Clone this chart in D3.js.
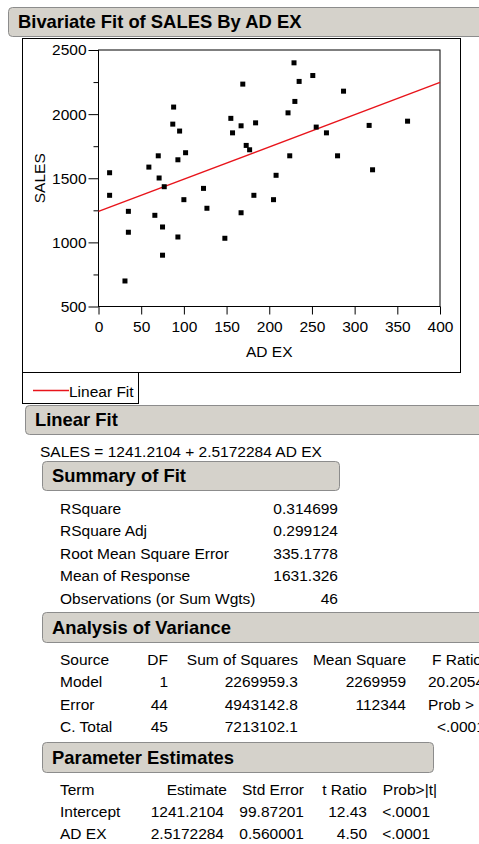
<!DOCTYPE html>
<html>
<head>
<meta charset="utf-8">
<script src="https://cdn.jsdelivr.net/npm/d3@7"></script>
<style>
  html, body { margin: 0; padding: 0; background: #fff; }
  svg { display: block; font-family: "Liberation Sans", Arial, sans-serif; }
</style>
</head>
<body>
<svg id="chart" width="479" height="844"></svg>
<script>
// Advertising expense (AD EX) vs SALES, 46 observations
const adEx = [169, 88, 87, 95, 155, 167, 184, 157, 173, 177,
              70, 102, 93, 59, 13, 71, 229, 251, 235, 287,
              230, 222, 255, 267, 317, 362, 224, 280, 321, 208,
              77, 13, 123, 100, 127, 182, 167, 35, 66, 75,
              35, 93, 148, 75, 31, 205];
const sales = [2234, 2055, 1922, 1868, 1967, 1909, 1932, 1854, 1756, 1722,
               1675, 1699, 1644, 1587, 1543, 1502, 2400, 2301, 2255, 2179,
               2099, 2010, 1899, 1854, 1912, 1945, 1675, 1675, 1566, 1523,
               1434, 1367, 1421, 1333, 1266, 1367, 1231, 1242, 1211, 1120,
               1079, 1042, 1032, 900, 699, 1333];

// Fitted line: SALES = intercept + slope * AD EX
const intercept = 1241.2104;
const slope = 2.5172284;

const xTicks = [0, 50, 100, 150, 200, 250, 300, 350, 400];
const yTicks = [500, 750, 1000, 1250, 1500, 1750, 2000, 2250, 2500];
const yLabelTicks = [500, 1000, 1500, 2000, 2500];

// Summary of Fit
const summaryLabels = ["RSquare", "RSquare Adj", "Root Mean Square Error", "Mean of Response", "Observations (or Sum Wgts)"];
const summaryValues = ["0.314699", "0.299124", "335.1778", "1631.326", "46"];

// Analysis of Variance
const anovaHeader = ["Source", "DF", "Sum of Squares", "Mean Square", "F Ratio"];
const anovaSource = ["Model", "Error", "C. Total"];
const anovaDF = ["1", "44", "45"];
const anovaSS = ["2269959.3", "4943142.8", "7213102.1"];
const anovaMS = ["2269959", "112344", ""];
const anovaF = ["20.2054", "Prob > F", "<.0001"];

// Parameter Estimates
const paramHeader = ["Term", "Estimate", "Std Error", "t Ratio", "Prob>|t|"];
const paramTerm = ["Intercept", "AD EX"];
const paramEstimate = ["1241.2104", "2.5172284"];
const paramStdErr = ["99.87201", "0.560001"];
const paramT = ["12.43", "4.50"];
const paramP = ["<.0001", "<.0001"];

const svg = d3.select("#chart");
const FONT = 15.5;
const BAR_FILL = "#d5d2cb";
const BAR_STROKE = "#8c8c8c";

function headerBar(x, y, w, h, label) {
  svg.append("rect")
    .attr("x", x + 0.5).attr("y", y + 0.5)
    .attr("width", w).attr("height", h)
    .attr("rx", 4).attr("ry", 4)
    .attr("fill", BAR_FILL).attr("stroke", BAR_STROKE).attr("stroke-width", 1);
  svg.append("text")
    .attr("x", x + 10).attr("y", y + h - 8)
    .attr("font-size", 18.4).attr("font-weight", "bold").attr("fill", "#000")
    .text(label);
}

// ---- Title bar
headerBar(8, 7, 490, 29, "Bivariate Fit of SALES By AD EX");

// ---- Outer frame around the plot
svg.append("rect")
  .attr("x", 22.5).attr("y", 38.5).attr("width", 438).attr("height", 334)
  .attr("fill", "none").attr("stroke", "#000");

// ---- Scales
const x = d3.scaleLinear().domain([0, 400]).range([98.5, 440]);
const y = d3.scaleLinear().domain([500, 2500]).range([306.5, 50]);

// Plot box
svg.append("rect")
  .attr("x", x(0)).attr("y", y(2500))
  .attr("width", x(400) - x(0)).attr("height", y(500) - y(2500))
  .attr("fill", "none").attr("stroke", "#000");

// Y axis: ticks every 250, labels every 500
const yAxis = d3.axisLeft(y)
  .tickValues(yTicks)
  .tickSizeOuter(0)
  .tickFormat(d => yLabelTicks.includes(d) ? d : "");
const gy = svg.append("g").attr("transform", `translate(${x(0)},0)`).call(yAxis);
gy.select(".domain").remove();
gy.selectAll(".tick line")
  .attr("x2", d => yLabelTicks.includes(d) ? -10 : -5)
  .attr("stroke", "#000");
gy.selectAll(".tick text")
  .attr("x", -12)
  .attr("font-size", FONT).attr("font-family", "Liberation Sans, Arial, sans-serif")
  .attr("fill", "#000");

// X axis
const xAxis = d3.axisBottom(x).tickValues(xTicks).tickSize(8).tickSizeOuter(0);
const gx = svg.append("g").attr("transform", `translate(0,${y(500)})`).call(xAxis);
gx.select(".domain").remove();
gx.selectAll(".tick line").attr("stroke", "#000");
gx.selectAll(".tick text")
  .attr("y", 14)
  .attr("font-size", FONT).attr("font-family", "Liberation Sans, Arial, sans-serif")
  .attr("fill", "#000");

// Axis titles
svg.append("text")
  .attr("x", (x(0) + x(400)) / 2).attr("y", 357)
  .attr("text-anchor", "middle").attr("font-size", FONT)
  .text("AD EX");
svg.append("text")
  .attr("transform", `translate(45,${(y(500) + y(2500)) / 2}) rotate(-90)`)
  .attr("text-anchor", "middle").attr("font-size", FONT)
  .text("SALES");

// Fitted line
const fitX = [0, 400];
svg.append("path")
  .datum(fitX)
  .attr("d", d3.line().x(d => x(d)).y(d => y(intercept + slope * d)))
  .attr("fill", "none").attr("stroke", "#e8141b").attr("stroke-width", 1.4);

// Observations
const pts = adEx.map((v, i) => ({ ax: v, s: sales[i] }));
svg.append("g").selectAll("rect")
  .data(pts)
  .join("rect")
  .attr("x", d => x(d.ax) - 2.5)
  .attr("y", d => y(d.s) - 2.5)
  .attr("width", 5).attr("height", 5)
  .attr("fill", "#000");

// ---- Legend
svg.append("rect")
  .attr("x", 22.5).attr("y", 372.5).attr("width", 116).attr("height", 31)
  .attr("fill", "none").attr("stroke", "#000");
svg.append("line")
  .attr("x1", 33).attr("x2", 69).attr("y1", 390.5).attr("y2", 390.5)
  .attr("stroke", "#e8141b").attr("stroke-width", 1.4);
svg.append("text")
  .attr("x", 69).attr("y", 397).attr("font-size", FONT)
  .text("Linear Fit");

// ---- Linear Fit report
headerBar(25, 405, 470, 29, "Linear Fit");
svg.append("text")
  .attr("x", 40).attr("y", 456.5).attr("font-size", FONT)
  .text(`SALES = ${intercept.toFixed(4)} + ${slope.toFixed(7)} AD EX`);

// Summary of Fit
headerBar(42, 461, 297, 29, "Summary of Fit");
const sumRowY = i => 513.5 + i * 22.5;
svg.append("g").selectAll("text").data(summaryLabels).join("text")
  .attr("x", 60).attr("y", (d, i) => sumRowY(i)).attr("font-size", FONT).text(d => d);
svg.append("g").selectAll("text").data(summaryValues).join("text")
  .attr("x", 338).attr("y", (d, i) => sumRowY(i)).attr("text-anchor", "end")
  .attr("font-size", FONT).text(d => d);

// Analysis of Variance
headerBar(42, 612, 470, 30, "Analysis of Variance");
const anovaRowY = i => 665 + i * 22.3;
function column(values, xPos, anchor, rowY, offset) {
  svg.append("g").selectAll("text").data(values).join("text")
    .attr("x", typeof xPos === "function" ? xPos : () => xPos)
    .attr("y", (d, i) => rowY(i + offset))
    .attr("text-anchor", anchor)
    .attr("font-size", FONT)
    .text(d => d);
}
svg.append("text").attr("x", 60).attr("y", anovaRowY(0)).attr("font-size", FONT).text(anovaHeader[0]);
svg.append("text").attr("x", 168).attr("y", anovaRowY(0)).attr("text-anchor", "end").attr("font-size", FONT).text(anovaHeader[1]);
svg.append("text").attr("x", 298).attr("y", anovaRowY(0)).attr("text-anchor", "end").attr("font-size", FONT).text(anovaHeader[2]);
svg.append("text").attr("x", 406).attr("y", anovaRowY(0)).attr("text-anchor", "end").attr("font-size", FONT).text(anovaHeader[3]);
svg.append("text").attr("x", 432).attr("y", anovaRowY(0)).attr("font-size", FONT).text(anovaHeader[4]);
column(anovaSource, 60, "start", anovaRowY, 1);
column(anovaDF, 168, "end", anovaRowY, 1);
column(anovaSS, 298, "end", anovaRowY, 1);
column(anovaMS, 406, "end", anovaRowY, 1);
column(anovaF, (d, i) => i === 2 ? 437 : 428, "start", anovaRowY, 1);

// Parameter Estimates
headerBar(42, 742, 391, 30, "Parameter Estimates");
const paramRowY = i => 795 + i * 22.2;
svg.append("text").attr("x", 60).attr("y", paramRowY(0)).attr("font-size", FONT).text(paramHeader[0]);
svg.append("text").attr("x", 227).attr("y", paramRowY(0)).attr("text-anchor", "end").attr("font-size", FONT).text(paramHeader[1]);
svg.append("text").attr("x", 304).attr("y", paramRowY(0)).attr("text-anchor", "end").attr("font-size", FONT).text(paramHeader[2]);
svg.append("text").attr("x", 367).attr("y", paramRowY(0)).attr("text-anchor", "end").attr("font-size", FONT).text(paramHeader[3]);
svg.append("text").attr("x", 437).attr("y", paramRowY(0)).attr("text-anchor", "end").attr("font-size", FONT).text(paramHeader[4]);
column(paramTerm, 60, "start", paramRowY, 1);
column(paramEstimate, 224, "end", paramRowY, 1);
column(paramStdErr, 304, "end", paramRowY, 1);
column(paramT, 367, "end", paramRowY, 1);
column(paramP, 430, "end", paramRowY, 1);
</script>
</body>
</html>
